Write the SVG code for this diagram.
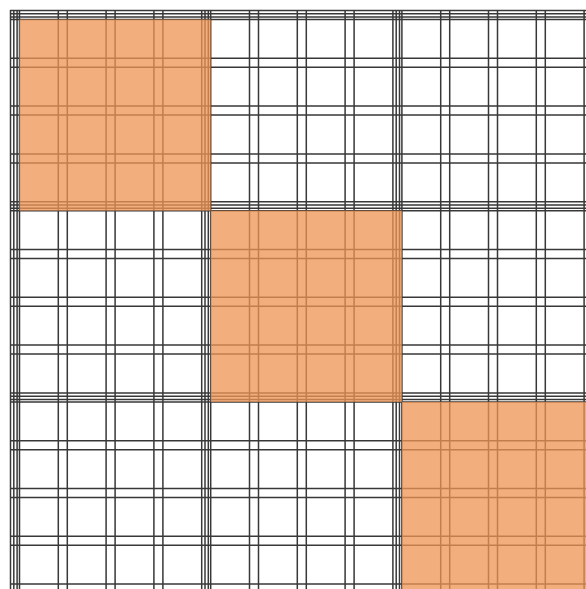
<svg xmlns="http://www.w3.org/2000/svg" width="586" height="589" viewBox="0 0 586 589">
<style>
.g{stroke:#383838;stroke-width:1.5;fill:none}
.blk{fill:#EF9456;fill-opacity:0.76;stroke:none}
</style>
<rect width="586" height="589" fill="#ffffff"/>
<g id="grid-vertical" class="g">
<path d="M10.5 10V589M13.8 10V589M17.1 10V589M19.5 10V589M58.3 10V589M67.3 10V589M106.1 10V589M115.1 10V589M153.9 10V589M162.9 10V589M201.7 10V589M205 10V589M208.3 10V589M210.7 10V589M249.5 10V589M258.5 10V589M297.3 10V589M306.3 10V589M345.1 10V589M354.1 10V589M392.9 10V589M396.2 10V589M399.5 10V589M401.9 10V589M440.7 10V589M449.7 10V589M488.5 10V589M497.5 10V589M536.3 10V589M545.3 10V589M584.1 10V589"/>
</g>
<g id="grid-horizontal" class="g">
<path d="M10 10.5H586M10 13.8H586M10 17.1H586M10 19.5H586M10 58.3H586M10 67.3H586M10 106.1H586M10 115.1H586M10 153.9H586M10 162.9H586M10 201.7H586M10 205H586M10 208.3H586M10 210.7H586M10 249.5H586M10 258.5H586M10 297.3H586M10 306.3H586M10 345.1H586M10 354.1H586M10 392.9H586M10 396.2H586M10 399.5H586M10 401.9H586M10 440.7H586M10 449.7H586M10 488.5H586M10 497.5H586M10 536.3H586M10 545.3H586M10 584.1H586"/>
</g>
<g id="block-1"><rect class="blk" x="19.5" y="19.5" width="191.2" height="191.2"/></g>
<g id="block-2"><rect class="blk" x="210.7" y="210.7" width="191.2" height="191.2"/></g>
<g id="block-3"><rect class="blk" x="401.9" y="401.9" width="184.1" height="187.1"/></g>
</svg>
